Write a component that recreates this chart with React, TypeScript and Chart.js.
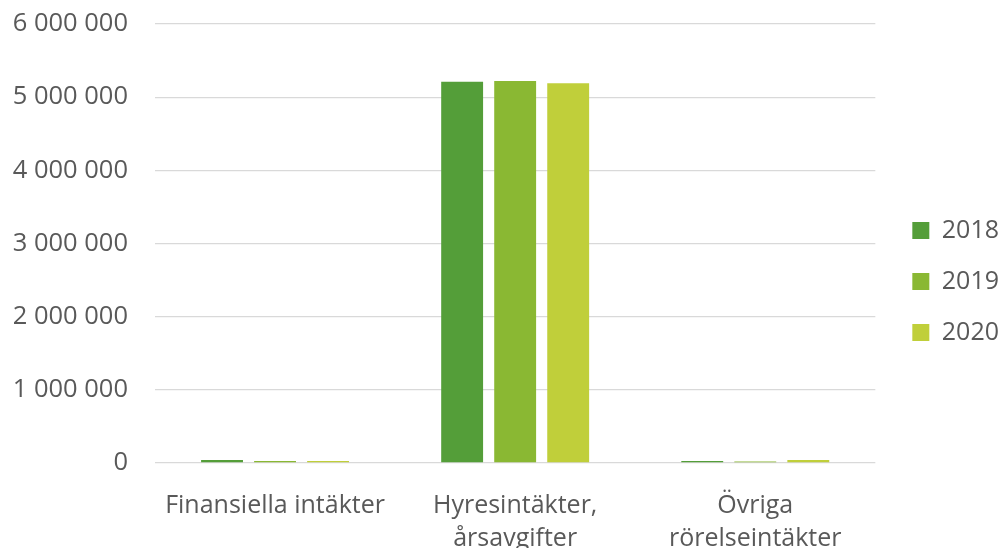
import React, { useEffect, useRef } from "react";
import { Chart, registerables } from "chart.js";

Chart.register(...registerables);

const categories: string[][] = [
  ["Finansiella intäkter"],
  ["Hyresintäkter,", "årsavgifter"],
  ["Övriga", "rörelseintäkter"],
];
const seriesLabels = ["2018", "2019", "2020"];
const values2018 = [41000, 5211000, 27000];
const values2019 = [27000, 5221000, 20000];
const values2020 = [27000, 5189000, 41000];
const seriesColors = ["#549E39", "#8AB833", "#C0CF3A"];
const yMax = 6000000;
const yStep = 1000000;

const FONT = "'Open Sans', sans-serif";
const TEXT = "#595959";
const GRID = "#D9D9D9";

export default function App() {
  const ref = useRef<HTMLCanvasElement | null>(null);
  useEffect(() => {
    if (!ref.current) return;
    const legendShift = {
      id: "legendShift",
      afterLayout(chart: any) {
        const l = chart.legend;
        if (l) {
          l.left += 11;
          l.right += 11;
        }
      },
    };
    const chart = new Chart(ref.current, {
      type: "bar",
      data: {
        labels: categories,
        datasets: [values2018, values2019, values2020].map((d, i) => ({
          label: seriesLabels[i],
          data: d,
          backgroundColor: seriesColors[i],
          borderWidth: 0,
          categoryPercentage: 0.6625,
          barPercentage: 0.79,
        })),
      },
      options: {
        animation: false,
        responsive: false,
        layout: { padding: { left: 0, right: 3, top: 0, bottom: 0 } },
        plugins: {
          tooltip: { enabled: false },
          legend: {
            position: "right",
            labels: {
              boxWidth: 17,
              boxHeight: 17,
              padding: 26,
              color: TEXT,
              font: { family: FONT, size: 25 },
            },
          },
        },
        scales: {
          x: {
            grid: { display: false },
            border: { display: false },
            ticks: {
              color: TEXT,
              font: { family: FONT, size: 25, lineHeight: 33 / 25 },
              padding: 18,
              maxRotation: 0,
              autoSkip: false,
            },
            afterFit: (s: any) => {
              s.height = 100;
            },
          },
          y: {
            min: 0,
            max: yMax,
            grid: { color: GRID, lineWidth: 1.3, drawTicks: false },
            border: { display: false },
            ticks: {
              stepSize: yStep,
              color: TEXT,
              padding: 27,
              font: { family: FONT, size: 25.5 },
              callback: (v: any) => String(v).replace(/\B(?=(\d{3})+(?!\d))/g, " "),
            },
            afterFit: (s: any) => {
              s.width = 155;
              s.paddingTop = 24;
              s.paddingBottom = 15;
            },
          },
        },
      },
      plugins: [legendShift],
    } as any);
    return () => chart.destroy();
  }, []);
  return (
    <div style={{ position: "absolute", left: 0, top: 0, width: 1001, height: 548, overflow: "hidden", background: "#fff" }}>
      <canvas ref={ref} width={1001} height={563} style={{ display: "block", width: 1001, height: 563 }} />
    </div>
  );
}
